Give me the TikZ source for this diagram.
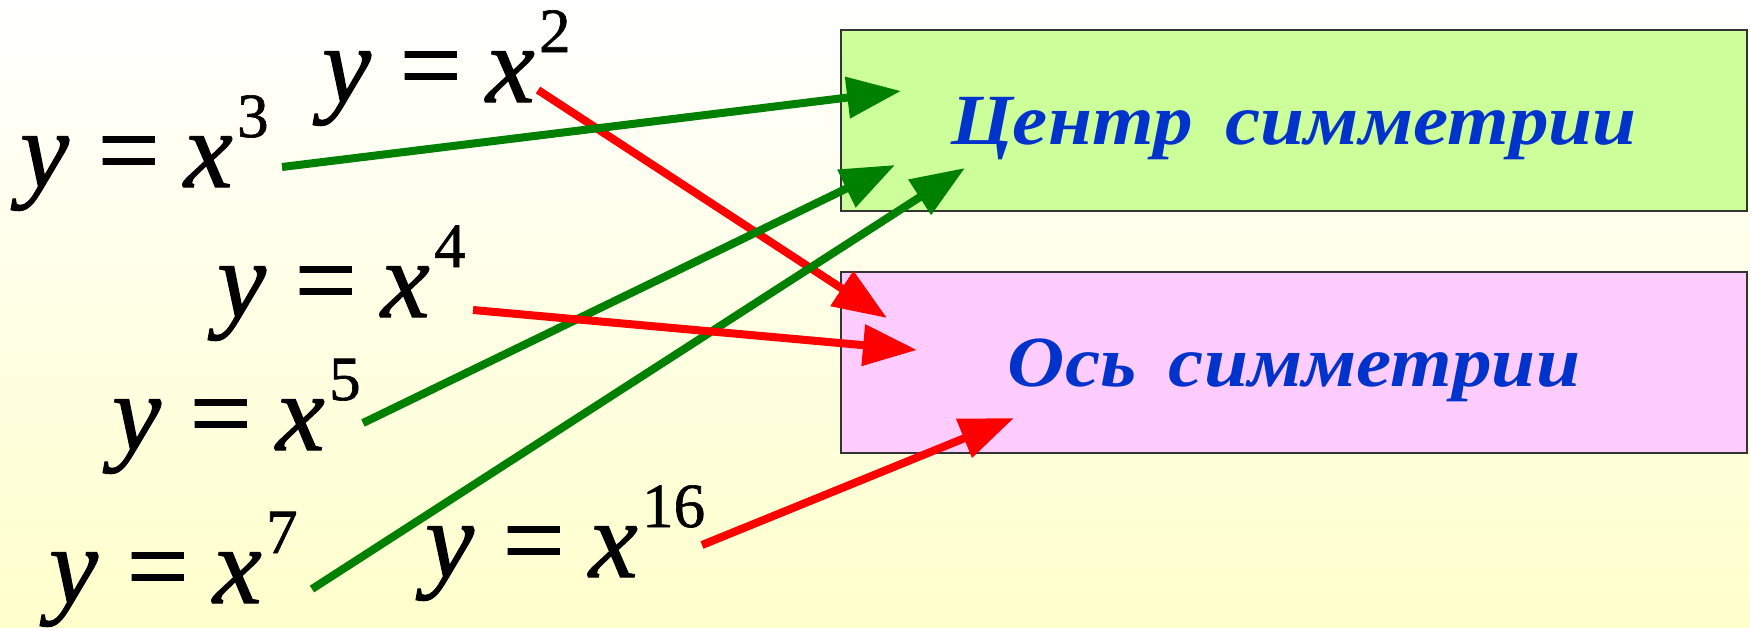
\documentclass[tikz,border=0pt]{standalone}
\usepackage{fontspec}
\setmainfont{Liberation Serif}
\newfontfamily\boxfont[FakeStretch=1.1]{Liberation Serif}
\newfontfamily\powfont[FakeBold=1]{Liberation Serif}
\usetikzlibrary{arrows.meta}
\definecolor{symPaperTop}{HTML}{FFFFFF}
\definecolor{symPaperLow}{HTML}{FFFFCC}
\definecolor{symLime}{HTML}{CCFF99}
\definecolor{symPink}{HTML}{FFCCFF}
\definecolor{symBlue}{HTML}{0033CC}
\definecolor{symGreen}{HTML}{008000}
\definecolor{symRed}{HTML}{FF0000}
\definecolor{symEdge}{HTML}{333333}
\newcommand\powlabel[1]{\powfont\fontsize{110}{110}\selectfont\textit{y}\hspace{0.26em}=\hspace{0.22em}\textit{x}\hspace{0.04em}\raisebox{50pt}{\fontsize{63}{63}\selectfont #1}}

\begin{document}
\begin{tikzpicture}[x=1pt,y=-1pt,line join=miter]
\useasboundingbox (0,0) rectangle (1750,627);
\shade[top color=symPaperTop,bottom color=symPaperLow] (0,0) rectangle (1750,627);
\tikzset{powlbl/.style={anchor=base west,inner sep=0pt,text=black},symbox/.style={draw=symEdge,line width=2pt,minimum width=906pt,minimum height=181pt,text=symBlue,font=\boxfont\bfseries\itshape\fontsize{72}{72}\selectfont,text height=48pt,text depth=0pt},gArrow/.style={draw=symGreen,line width=8pt,-{Triangle[length=54pt,width=40pt]}},rArrow/.style={draw=symRed,line width=8pt,-{Triangle[length=54pt,width=40pt]}}}
% target boxes
\node[symbox,fill=symLime] (boxCenter) at (1294,120.5) {Центр\hspace{0.45em}симметрии};
\node[symbox,fill=symPink] (boxAxis) at (1294,362.5) {Ось\hspace{0.45em}симметрии};
% power functions
\node[powlbl] (lblThree) at (20,187) {\powlabel{3}};
\node[powlbl] (lblTwo) at (322,102) {\powlabel{2}};
\node[powlbl] (lblFour) at (217,317) {\powlabel{4}};
\node[powlbl] (lblFive) at (112,450) {\powlabel{5}};
\node[powlbl] (lblSeven) at (49,603) {\powlabel{7}};
\node[powlbl] (lblSixteen) at (425,577) {\powlabel{16}};
% arrow ends
\coordinate (fromTwo) at (538,90); \coordinate (toTwo) at (887,318);
\coordinate (fromFour) at (473,310); \coordinate (toFour) at (917,350);
\coordinate (fromSixteen) at (702,545); \coordinate (toSixteen) at (1014,418);
\coordinate (fromThree) at (282,167); \coordinate (toThree) at (901,91);
\coordinate (fromFive) at (363,423); \coordinate (toFive) at (895,165);
\coordinate (fromSeven) at (312,589); \coordinate (toSeven) at (965,168);
% even powers: axis, odd powers: centre
\draw[rArrow] (fromTwo) -- (toTwo); \draw[rArrow] (fromSixteen) -- (toSixteen);
\draw[gArrow] (fromThree) -- (toThree); \draw[gArrow] (fromFive) -- (toFive); \draw[gArrow] (fromSeven) -- (toSeven);
\draw[rArrow] (fromFour) -- (toFour);
\end{tikzpicture}
\end{document}
